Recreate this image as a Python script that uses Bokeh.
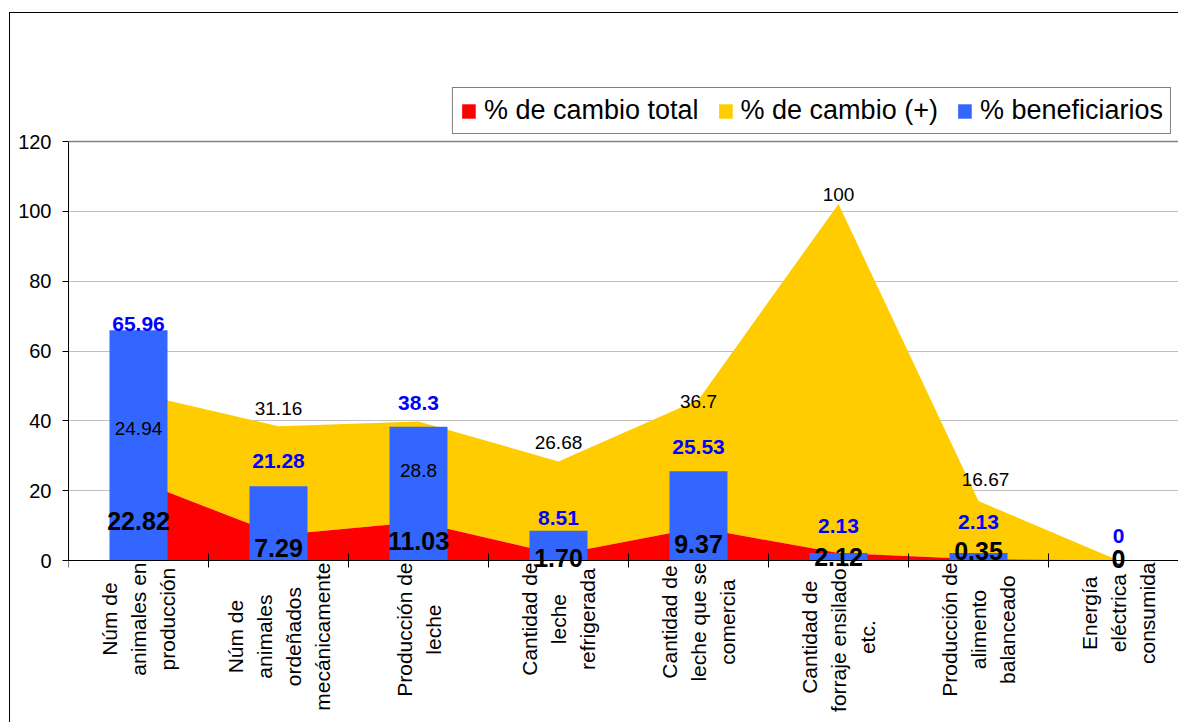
import math
from bokeh.plotting import figure
from bokeh.models import (ColumnDataSource, Range1d, FixedTicker, LabelSet,
                          Legend, LegendItem, Span)
from bokeh.layouts import column
from bokeh.embed import file_html
from bokeh.resources import INLINE
from bokeh.core.properties import value

# ---------------- data ----------------
categories = [
    ["Núm de", "animales en", "producción"],
    ["Núm de", "animales", "ordeñados", "mecánicamente"],
    ["Producción de", "leche"],
    ["Cantidad de", "leche", "refrigerada"],
    ["Cantidad de", "leche que se", "comercia"],
    ["Cantidad de", "forraje ensilado,", "etc."],
    ["Producción de", "alimento", "balanceado"],
    ["Energía", "eléctrica", "consumida"],
]
cambio_total = [22.82, 7.29, 11.03, 1.70, 9.37, 2.12, 0.35, 0]
cambio_pos = [24.94, 31.16, 28.8, 26.68, 36.7, 100, 16.67, 0]
beneficiarios = [65.96, 21.28, 38.3, 8.51, 25.53, 2.13, 2.13, 0]
total_text = ["22.82", "7.29", "11.03", "1.70", "9.37", "2.12", "0.35", "0"]
pos_text = ["24.94", "31.16", "28.8", "26.68", "36.7", "100", "16.67", "0"]
ben_text = ["65.96", "21.28", "38.3", "8.51", "25.53", "2.13", "2.13", "0"]
y_ticks = [0, 20, 40, 60, 80, 100, 120]
legend_labels = ["% de cambio total", "% de cambio (+)", "% beneficiarios"]

# ---------------- styles (label nudges in px) ----------------
blue_dy = [6, 25, 24, 13, 24, 27, 31, 25]
red_dy = [0, 0, 0, 0, 0, 0, 9, 2]
yel_dy = [-35, 18, -49, 19, -2, 9, 22, 2]
yel_dx = [0, 0, 0, 0, 0, 0, 7, 0]

RED = "#FF0000"
YELLOW = "#FFCC00"
BLUE = "#3366FF"
FONT = "Liberation Sans"

W = 1168                     # canvas width (content starts at x=10)
PX_PER_UNIT = 419 / 120.0    # 120 units span 419 px
HEAD = 61                    # px of frame above the 120 line (holds the legend)
TOP, BOT, LEFT = 67, 8, 58
FRAME_H = 709 - TOP - BOT
BELOW = FRAME_H - 419 - HEAD  # px of frame below the zero line (category labels)
CAT_PX = 140.0
FRAME_W = W - LEFT
x_end = FRAME_W / CAT_PX
y_end = 120 + HEAD / PX_PER_UNIT
y_start = -BELOW / PX_PER_UNIT

n = len(cambio_total)
xs = [i + 0.5 for i in range(n)]
stack_top = [a + b for a, b in zip(cambio_total, cambio_pos)]
src = ColumnDataSource(dict(
    x=xs, zero=[0] * n, red=cambio_total, top=stack_top, blue=beneficiarios,
    half=[v / 2 for v in cambio_total],
    t_red=total_text, t_pos=pos_text, t_ben=ben_text,
    blue_dy=blue_dy, red_dy=red_dy, yel_dy=yel_dy, yel_dx=yel_dx,
))

p = figure(frame_width=FRAME_W, frame_height=FRAME_H,
           x_range=Range1d(0, x_end), y_range=Range1d(y_start, y_end),
           toolbar_location=None, output_backend="svg",
           min_border_left=LEFT, min_border_right=0, min_border_top=TOP,
           min_border_bottom=BOT, outline_line_color=None,
           background_fill_color="white", border_fill_color="white")

r_yel = p.varea(x="x", y1="red", y2="top", source=src, fill_color=YELLOW)
r_red = p.varea(x="x", y1="zero", y2="red", source=src, fill_color=RED)
r_blue = p.vbar(x="x", top="blue", width=58 / CAT_PX, source=src,
                fill_color=BLUE, line_color=None)

p.add_layout(Span(location=120, dimension="width", line_color="#808080", line_width=1.5))

# axes
p.xgrid.visible = False
p.ygrid.grid_line_color = "#C0C0C0"
p.ygrid.ticker = FixedTicker(ticks=y_ticks)
p.yaxis.ticker = FixedTicker(ticks=y_ticks)
p.yaxis.bounds = (0, 120)
p.yaxis.major_label_text_font = FONT
p.yaxis.major_label_text_font_size = "20px"
p.yaxis.major_label_text_color = "black"
p.yaxis.major_tick_in = 0
p.yaxis.major_tick_out = 6
p.yaxis.minor_tick_line_color = None
p.yaxis.major_label_standoff = 11
p.yaxis.axis_line_color = "black"

p.xaxis.fixed_location = 0
p.xaxis.ticker = FixedTicker(ticks=list(range(n + 1)))
p.xaxis.major_tick_in = 7
p.xaxis.major_tick_out = 7
p.xaxis.minor_tick_line_color = None
p.xaxis.major_label_text_font_size = "0px"
p.xaxis.major_label_standoff = 0
p.xaxis.major_label_overrides = {i: "" for i in range(n + 1)}
p.xaxis.axis_line_color = "black"

# data labels
p.add_layout(LabelSet(x="x", y="top", text="t_pos", source=src, x_offset="yel_dx",
                      y_offset="yel_dy", text_align="center", text_baseline="middle",
                      text_font=value(FONT), text_font_size="19px",
                      text_color="black"))
p.add_layout(LabelSet(x="x", y="blue", text="t_ben", source=src, y_offset="blue_dy",
                      text_align="center", text_baseline="middle",
                      text_font=value(FONT), text_font_size="21px",
                      text_font_style="bold", text_color="#0000FF"))
p.add_layout(LabelSet(x="x", y="half", text="t_red", source=src, y_offset="red_dy",
                      text_align="center", text_baseline="middle",
                      text_font=value(FONT), text_font_size="25px",
                      text_font_style="bold", text_color="black"))

legend = Legend(items=[LegendItem(label=legend_labels[0], renderers=[r_red]),
                       LegendItem(label=legend_labels[1], renderers=[r_yel]),
                       LegendItem(label=legend_labels[2], renderers=[r_blue])],
                orientation="horizontal", location="top_right",
                label_text_font=FONT, label_text_font_size="27px",
                label_text_color="black",
                glyph_width=17, glyph_height=18, label_standoff=7,
                spacing=18, padding=7, margin=7,
                border_line_color="black", border_line_width=1,
                background_fill_color="white", background_fill_alpha=1)
p.add_layout(legend)

# ---------------- category labels (rotated, centred lines) ----------------
ARIAL = {" ": 278, "a": 556, "b": 556, "c": 500, "d": 556, "e": 556, "f": 278,
         "g": 556, "h": 556, "i": 222, "j": 222, "l": 222, "m": 833, "n": 556,
         "o": 556, "p": 556, "q": 556, "r": 333, "s": 500, "t": 278, "u": 556,
         "ñ": 556, "á": 556, "é": 556, "í": 278, "ó": 556, "ú": 556, "N": 722,
         "P": 667, "C": 722, "E": 667, ".": 278, ",": 278}
LAB_FS = 21
LINE_SP = 29
GAP = 2


def tw(s):
    return sum(ARIAL.get(c, 556) for c in s) / 1000.0 * LAB_FS


lx, ly, lt = [], [], []
for i, lines in enumerate(categories):
    k = len(lines)
    maxw = max(tw(s) for s in lines)
    for j, s in enumerate(lines):
        lx.append(xs[i] + (j - (k - 1) / 2.0) * LINE_SP / CAT_PX)
        ly.append(-(GAP + maxw / 2.0) / PX_PER_UNIT)
        lt.append(s)

p.text(x=lx, y=ly, text=lt, angle=math.pi / 2, text_align="center",
       text_baseline="middle", text_font=value(FONT), text_font_size=f"{LAB_FS}px",
       text_color="black")

layout = column(p, styles={"border-left": "1px solid black",
                           "border-top": "1px solid black",
                           "margin-top": "12px", "margin-left": "9px"})

html = file_html(layout, INLINE)
html = html.replace("<head>", "<head><style>html, body { overflow: hidden; }</style>", 1)
open("out.html", "w").write(html)
